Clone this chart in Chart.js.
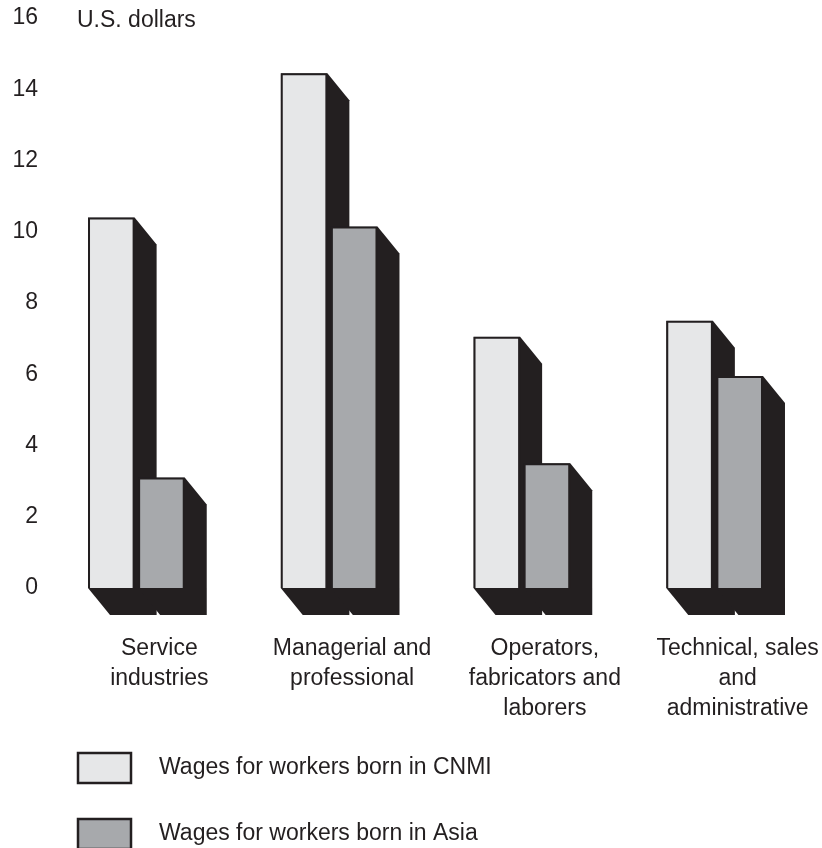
<!DOCTYPE html>
<html>
<head>
<meta charset="utf-8">
<script src="https://cdn.jsdelivr.net/npm/chart.js@4.4.1/dist/chart.umd.min.js"></script>
<style>
  html, body { margin: 0; padding: 0; background: #fff; }
  #wrap { width: 822px; height: 848px; }
</style>
</head>
<body>
<div id="wrap"><canvas id="chart"></canvas></div>
<script>
// data
const categories = [
  ['Service', 'industries'],
  ['Managerial and', 'professional'],
  ['Operators,', 'fabricators and', 'laborers'],
  ['Technical, sales', 'and', 'administrative']
];
const cnmiWages = [10.4, 14.45, 7.05, 7.5];
const asiaWages = [3.1, 10.15, 3.5, 5.95];
const yTicks = [0, 2, 4, 6, 8, 10, 12, 14, 16];
const seriesNames = ['Wages for workers born in CNMI', 'Wages for workers born in Asia'];
const axisTitle = 'U.S. dollars';

const dark = '#231f20';
const fontFamily = '"Liberation Sans", Arial, Helvetica, sans-serif';
const depthX = 22, depthY = 27;

// dark extrusion behind every bar
const shadowPlugin = {
  id: 'shadow3d',
  beforeDatasetsDraw(chart) {
    const ctx = chart.ctx;
    ctx.save();
    ctx.fillStyle = dark;
    chart.data.datasets.forEach((ds, i) => {
      chart.getDatasetMeta(i).data.forEach(bar => {
        const l = bar.x - bar.width / 2, r = bar.x + bar.width / 2;
        ctx.beginPath();
        ctx.moveTo(l, bar.y);
        ctx.lineTo(r, bar.y);
        ctx.lineTo(r + depthX, bar.y + depthY);
        ctx.lineTo(r + depthX, bar.base + depthY);
        ctx.lineTo(l + depthX, bar.base + depthY);
        ctx.lineTo(l, bar.base);
        ctx.closePath();
        ctx.fill();
      });
    });
    ctx.restore();
  }
};

// axis title and the stacked legend at the bottom
const extrasPlugin = {
  id: 'extras',
  afterDraw(chart) {
    const ctx = chart.ctx;
    const y = chart.scales.y;
    const area = chart.chartArea;
    ctx.save();
    ctx.font = '23px ' + fontFamily;
    ctx.fillStyle = dark;
    ctx.textBaseline = 'middle';
    ctx.textAlign = 'left';
    ctx.fillText(axisTitle, 77, y.getPixelForValue(16) + 3);

    chart.data.datasets.forEach((ds, i) => {
      const top = area.bottom + 164 + i * 66;
      ctx.fillStyle = ds.backgroundColor;
      ctx.fillRect(77, top, 55, 32);
      ctx.strokeStyle = dark;
      ctx.lineWidth = 2.5;
      ctx.strokeRect(78, top + 1, 53, 30);
      ctx.fillStyle = dark;
      ctx.fillText(ds.label, 159, top + 16);
    });
    ctx.restore();
  }
};

new Chart(document.getElementById('chart'), {
  type: 'bar',
  data: {
    labels: categories,
    datasets: [
      {
        label: seriesNames[0],
        data: cnmiWages,
        backgroundColor: '#e6e7e8',
        borderColor: dark,
        borderWidth: 2,
        categoryPercentage: 0.52,
        barPercentage: 0.93
      },
      {
        label: seriesNames[1],
        data: asiaWages,
        backgroundColor: '#a7a9ac',
        borderColor: dark,
        borderWidth: 2,
        categoryPercentage: 0.52,
        barPercentage: 0.93
      }
    ]
  },
  options: {
    responsive: true,
    maintainAspectRatio: false,
    animation: false,
    layout: { padding: { top: 18, right: 11, left: 0, bottom: 0 } },
    plugins: {
      legend: { display: false },
      tooltip: { enabled: false }
    },
    scales: {
      x: {
        grid: { display: false, drawTicks: false },
        border: { display: false },
        ticks: {
          color: dark,
          font: { family: fontFamily, size: 23, lineHeight: 1.32 },
          padding: 45,
          labelOffset: 23,
          maxRotation: 0,
          autoSkip: false
        },
        afterFit(scale) {
          scale.height = 260;
          // keep the labels from squeezing the plot
          scale.paddingLeft = 0;
          scale.paddingRight = 0;
        }
      },
      y: {
        min: 0,
        max: 16,
        grid: { display: false, drawTicks: false },
        border: { display: false },
        afterBuildTicks(scale) { scale.ticks = yTicks.map(v => ({ value: v })); },
        ticks: {
          color: dark,
          font: { family: fontFamily, size: 23 },
          padding: 2
        },
        afterFit(scale) {
          scale.width = 40;
          scale.paddingTop = 0;
        }
      }
    }
  },
  plugins: [shadowPlugin, extrasPlugin]
});
</script>
</body>
</html>
